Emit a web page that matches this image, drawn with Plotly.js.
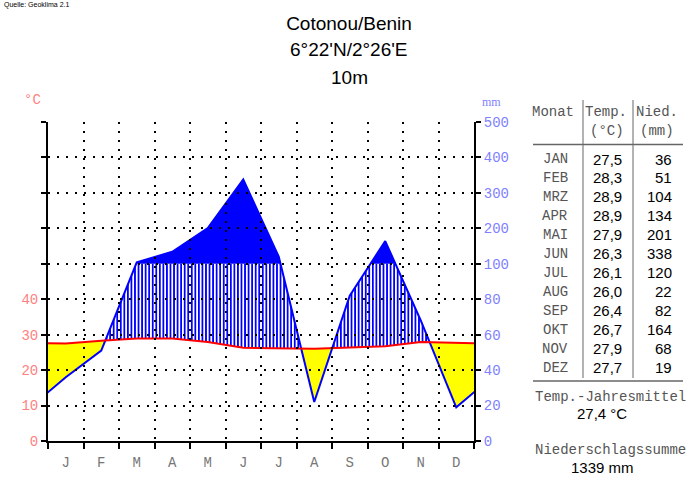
<!DOCTYPE html>
<html><head><meta charset="utf-8">
<script src="https://cdn.plot.ly/plotly-3.0.1.min.js"></script>
<style>html,body{margin:0;padding:0;background:#fff}#chart{width:700px;height:485px}</style>
</head><body><div id="chart"></div>
<script>
// ---- data ----
const station = 'Cotonou/Benin';
const coords = "6°22'N/2°26'E";
const elevation = '10m';
const source = 'Quelle: Geoklima 2.1';
const monthLetters = ['J','F','M','A','M','J','J','A','S','O','N','D'];
const monthNames = ['JAN','FEB','MRZ','APR','MAI','JUN','JUL','AUG','SEP','OKT','NOV','DEZ'];
const temperature = [27.5,28.3,28.9,28.9,27.9,26.3,26.1,26.0,26.4,26.7,27.9,27.7];
const precipitation = [36,51,104,134,201,338,120,22,82,164,68,19];
const leftTickLabels = ['0','10','20','30','40','','','','',''];
const rightTickLabels = ['0','20','40','60','80','100','200','300','400','500'];

// ---- Walter-Lieth scale: 10 °C = 20 mm up to 100 mm, then 10 °C = 100 mm ----
const scaleP = p => p <= 100 ? p / 2 : 50 + (p - 100) / 10;

// cyclic extension (Dec before Jan, Jan after Dec), clipped by the axis range
const X = [], TT = [], PP = [];
for (let k = -1; k <= 12; k++) {
  const m = (k + 12) % 12;
  X.push(k + 0.5); TT.push(temperature[m]); PP.push(scaleP(precipitation[m]));
}
// breakpoints where the curves cross each other or the 100 mm level
const bx = [], bt = [], bp = [];
for (let i = 0; i < X.length; i++) {
  bx.push(X[i]); bt.push(TT[i]); bp.push(PP[i]);
  if (i < X.length - 1) {
    const ts = [];
    const d0 = PP[i] - TT[i], d1 = PP[i+1] - TT[i+1];
    if (d0 * d1 < 0) ts.push(d0 / (d0 - d1));
    const e0 = PP[i] - 50, e1 = PP[i+1] - 50;
    if (e0 * e1 < 0) ts.push(e0 / (e0 - e1));
    ts.sort((a, b) => a - b);
    ts.forEach(t => {
      bx.push(X[i] + t * (X[i+1] - X[i]));
      bt.push(TT[i] + t * (TT[i+1] - TT[i]));
      bp.push(PP[i] + t * (PP[i+1] - PP[i]));
    });
  }
}
const aridLow = bx.map((_, i) => Math.min(bp[i], bt[i]));
const humidHigh = bx.map((_, i) => Math.min(Math.max(bp[i], bt[i]), 50));
const level100 = bx.map(() => 50);
const wetHigh = bx.map((_, i) => Math.max(bp[i], 50));

const noLine = {width: 0, color: 'rgba(0,0,0,0)'};
const base = {type: 'scatter', mode: 'lines', hoverinfo: 'skip', showlegend: false, xaxis: 'x', yaxis: 'y'};
const traces = [
  Object.assign({}, base, {x: bx, y: aridLow, line: noLine}),
  Object.assign({}, base, {x: bx, y: bt, line: noLine, fill: 'tonexty', fillcolor: '#ffff00'}),
  Object.assign({}, base, {x: bx, y: bt, line: noLine}),
  Object.assign({}, base, {x: bx, y: humidHigh, line: noLine, fill: 'tonexty', fillcolor: '#ffffff',
    fillpattern: {shape: '|', fgcolor: '#0000ff', bgcolor: '#ffffff', size: 3.55, solidity: 0.5}}),
  Object.assign({}, base, {x: bx, y: level100, line: noLine}),
  Object.assign({}, base, {x: bx, y: wetHigh, line: noLine, fill: 'tonexty', fillcolor: '#0000ff'}),
  Object.assign({}, base, {x: X, y: PP, line: {color: '#0000ff', width: 2}}),
  Object.assign({}, base, {x: X, y: TT, line: {color: '#ff0000', width: 2}}),
  {type: 'scatter', x: [0], y: [0], mode: 'markers', marker: {opacity: 0}, xaxis: 'x', yaxis: 'y2', hoverinfo: 'skip', showlegend: false},
  {type: 'scatter', x: [0], y: [0], mode: 'markers', marker: {opacity: 0}, xaxis: 'x3', yaxis: 'y3', hoverinfo: 'skip', showlegend: false}
];

// ---- pixel helpers for the plot frame ----
const PL = 48, PR = 474, PT = 122, PB = 441;
const ax = x => (x - PL) / (PR - PL);
const ay = y => (PB - y) / (PB - PT);
const MONO = 'Liberation Mono, Courier New, monospace';
const SANS = 'Liberation Sans, Arial, sans-serif';
function ann(text, x, y, font, xanchor) {
  return {text: text, x: ax(x), y: ay(y), xref: 'paper', yref: 'paper', showarrow: false,
          xanchor: xanchor || 'center', yanchor: 'middle', font: font};
}
const tick10 = Array.from({length: 10}, (_, i) => i * 10);
const centers = monthLetters.map((_, i) => i + 0.5);
const bounds = Array.from({length: 13}, (_, i) => i);

const annotations = [
  ann(source, 2, 5, {family: SANS, size: 7, color: '#000'}, 'left'),
  ann(coords, 349, 50, {family: SANS, size: 19, color: '#000'}),
  ann(elevation, 349, 78, {family: SANS, size: 19, color: '#000'}),
  ann('°C', 32, 100, {family: MONO, size: 14, color: '#ff7f7f'}),
  ann('mm', 491, 102, {family: 'Liberation Serif, serif', size: 12, color: '#7f7fff'}),
  ann('Monat', 553, 112, {family: MONO, size: 14, color: '#555'}),
  ann('Temp.', 606, 112, {family: MONO, size: 14, color: '#555'}),
  ann('(°C)', 607, 131, {family: MONO, size: 14, color: '#555'}),
  ann('Nied.', 657, 112, {family: MONO, size: 14, color: '#555'}),
  ann('(mm)', 657, 131, {family: MONO, size: 14, color: '#555'})
];
monthNames.forEach((m, i) => {
  const y = 159 + i * 18.97;
  annotations.push(ann(m, 555, y, {family: MONO, size: 14, color: '#555'}));
  annotations.push(ann(temperature[i].toFixed(1).replace('.', ','), 624, y, {family: SANS, size: 15, color: '#000'}, 'right'));
  annotations.push(ann(String(precipitation[i]), 674, y, {family: SANS, size: 15, color: '#000'}, 'right'));
});
const meanT = temperature.reduce((a, b) => a + b, 0) / temperature.length;
const sumP = precipitation.reduce((a, b) => a + b, 0);
annotations.push(ann('Temp.-Jahresmittel', 610, 397, {family: MONO, size: 14, color: '#555'}));
annotations.push(ann(meanT.toFixed(1).replace('.', ',') + ' °C', 602, 413, {family: SANS, size: 15, color: '#000'}));
annotations.push(ann('Niederschlagssumme', 610, 450, {family: MONO, size: 14, color: '#555'}));
annotations.push(ann(sumP + ' mm', 602, 467, {family: SANS, size: 15, color: '#000'}));

function hline(x0, x1, y) {
  return {type: 'line', xref: 'paper', yref: 'paper', x0: ax(x0), x1: ax(x1), y0: ay(y), y1: ay(y), line: {color: '#666', width: 1.5}};
}
function vline(x, y0, y1) {
  return {type: 'line', xref: 'paper', yref: 'paper', x0: ax(x), x1: ax(x), y0: ay(y0), y1: ay(y1), line: {color: '#666', width: 1}};
}
const shapes = [hline(533, 683, 144.5), hline(533, 683, 381), vline(583, 100, 378), vline(633, 100, 378)];

const gridStyle = {showgrid: true, gridcolor: '#000', gridwidth: 2, griddash: '2px,7px',
                   showticklabels: false, ticks: '', zeroline: false, showline: false};
const layout = {
  width: 700, height: 485,
  margin: {l: PL, r: 700 - PR, t: PT, b: 485 - PB, pad: 0},
  paper_bgcolor: '#ffffff', plot_bgcolor: 'rgba(0,0,0,0)',
  showlegend: false,
  title: {text: station, x: 349 / 700, xanchor: 'center', y: 1 - 23 / 485, yanchor: 'middle',
          font: {family: SANS, size: 19, color: '#000'}},
  xaxis: {domain: [0, 1], range: [0, 12], fixedrange: true, tickmode: 'array', tickvals: centers, ticktext: monthLetters,
          ticks: '', ticklabelstandoff: 7, tickfont: {family: MONO, size: 14, color: '#777'},
          showgrid: false, zeroline: false, showline: true, linecolor: '#000', linewidth: 2,
          minor: {tickmode: 'array', tickvals: bounds, ticks: 'outside', ticklen: 6, tickwidth: 2, tickcolor: '#000', showgrid: false}},
  yaxis: {domain: [0, 1], range: [0, 90], fixedrange: true, tickmode: 'array', tickvals: tick10, ticktext: leftTickLabels,
          ticks: 'outside', ticklen: 5, tickwidth: 2, tickcolor: '#000',
          tickfont: {family: MONO, size: 14, color: '#ff7f7f'},
          showgrid: false, zeroline: false, showline: true, linecolor: '#000', linewidth: 2},
  yaxis2: {overlaying: 'y', side: 'right', range: [0, 90], fixedrange: true, tickmode: 'array', tickvals: tick10, ticktext: rightTickLabels,
           ticks: 'outside', ticklen: 5, tickwidth: 2, tickcolor: '#000',
           tickfont: {family: MONO, size: 14, color: '#7f7fff'},
           showgrid: false, zeroline: false, showline: true, linecolor: '#000', linewidth: 2},
  xaxis3: Object.assign({domain: [0, 1], anchor: 'y3', range: [0, 12], fixedrange: true, tickmode: 'array',
                         tickvals: bounds.slice(1, 12)}, gridStyle),
  yaxis3: Object.assign({domain: [0, 1], anchor: 'x3', range: [0, 90], fixedrange: true, tickmode: 'array',
                         tickvals: tick10.slice(1).concat([90])}, gridStyle),
  annotations: annotations,
  shapes: shapes
};
Plotly.newPlot('chart', traces, layout, {displayModeBar: false, staticPlot: true});
</script>
</body></html>
